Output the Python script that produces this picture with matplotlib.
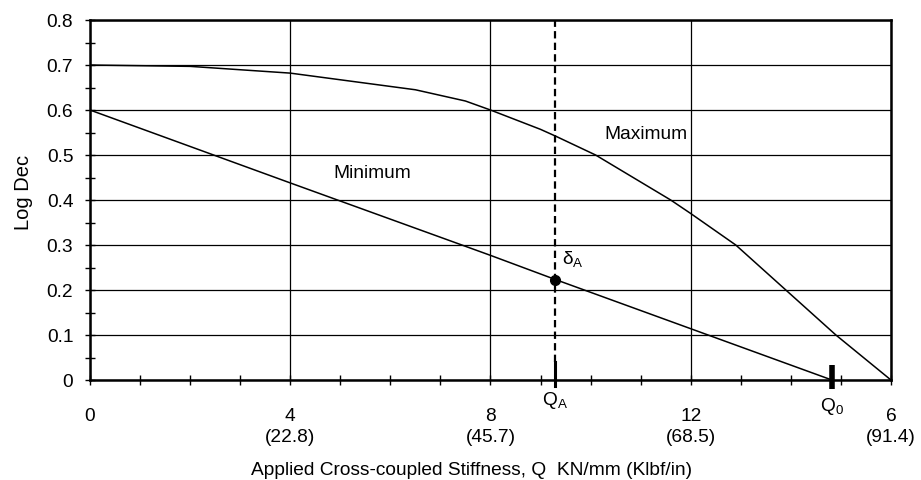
import matplotlib.pyplot as plt
import numpy as np

plt.rcParams['font.family'] = ['Liberation Sans', 'DejaVu Sans']
plt.rcParams['mathtext.fontset'] = 'custom'
plt.rcParams['mathtext.rm'] = 'Liberation Sans'
plt.rcParams['mathtext.it'] = 'Liberation Sans'

# curves
max_q = [0, 2, 4, 6.5, 7.5, 8, 9, 9.3, 10.1, 11.6, 12, 12.9, 13.9, 14.9, 16]
max_logdec = [0.70, 0.697, 0.682, 0.645, 0.62, 0.60, 0.557, 0.542, 0.50, 0.40, 0.37, 0.30, 0.20, 0.10, 0.0]
min_q = [0, 4, 8, 9.28, 14.82]
min_logdec = [0.60, 0.438, 0.277, 0.224, 0.0]

q_a = 9.28
delta_a = 0.222
q_0 = 14.82

xticks = [0, 4, 8, 12, 16]
xtick_labels = ['0', '4\n(22.8)', '8\n(45.7)', '12\n(68.5)', '6\n(91.4)']
yticks = [0, 0.1, 0.2, 0.3, 0.4, 0.5, 0.6, 0.7, 0.8]
ytick_labels = ['0', '0.1', '0.2', '0.3', '0.4', '0.5', '0.6', '0.7', '0.8']

FS = 13.8


def main() -> None:
    fig = plt.figure(figsize=(9.21, 4.8), dpi=100)
    ax = fig.add_axes([0.0977, 0.2083, 0.8697, 0.75])

    ax.plot(max_q, max_logdec, color='black', lw=1.1, zorder=3)
    ax.plot(min_q, min_logdec, color='black', lw=1.1, zorder=3)

    # Q_A marker line and delta_A point
    ax.plot([q_a, q_a], [0.04, 0.8], color='black', lw=1.6, ls=(0, (3.3, 1.9)), zorder=3)
    ax.plot([q_a, q_a], [-0.014, 0.04], color='black', lw=2.2, zorder=4, clip_on=False)
    ax.plot([q_0, q_0], [-0.02, 0.033], color='black', lw=4, zorder=4, clip_on=False, solid_capstyle='butt')
    ax.plot([q_a], [delta_a], 'o', color='black', ms=7, zorder=5)

    ax.set_xlim(0, 16)
    ax.set_ylim(0, 0.8)
    ax.set_xticks(xticks)
    ax.set_xticklabels(xtick_labels, fontsize=FS, linespacing=1.3, va='top')
    ax.set_yticks(yticks)
    ax.set_yticklabels(ytick_labels, fontsize=FS)
    ax.set_xticks(np.arange(0, 17, 1), minor=True)
    ax.set_yticks(np.arange(0, 0.81, 0.05), minor=True)
    ax.tick_params(which='both', direction='inout', width=1, color='black')
    ax.tick_params(axis='x', which='both', length=7, pad=16.5)
    ax.tick_params(axis='y', which='both', length=7, pad=8.5)

    ax.grid(True, which='major', color='black', lw=0.9)
    for side in ax.spines.values():
        side.set_linewidth(1.8)

    ax.text(5.63, 0.46, 'Minimum', fontsize=FS, ha='center', va='center')
    ax.text(11.11, 0.546, 'Maximum', fontsize=FS, ha='center', va='center')
    ax.text(9.64, 0.27, r'δ$_\mathrm{A}$', fontsize=FS, ha='center', va='center')
    ax.text(q_a, -0.045, r'Q$_\mathrm{A}$', fontsize=FS, ha='center', va='center')
    ax.text(q_0, -0.058, r'Q$_\mathrm{0}$', fontsize=FS, ha='center', va='center')

    fig.text(0.025, 0.60, 'Log Dec', fontsize=14.5, rotation=90, ha='center', va='center')
    fig.text(0.512, 0.02, 'Applied Cross-coupled Stiffness, Q  KN/mm (Klbf/in)',
             fontsize=FS, ha='center', va='center')

    fig.savefig('out.png', dpi=100)


if __name__ == '__main__':
    main()
